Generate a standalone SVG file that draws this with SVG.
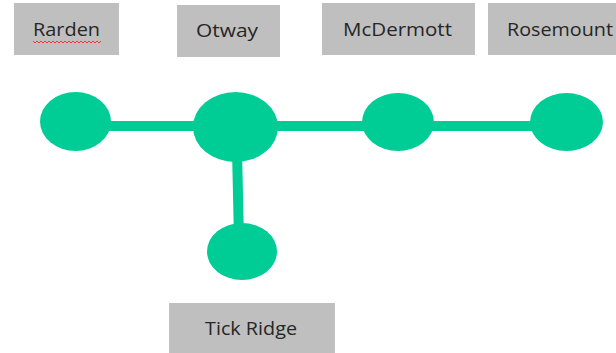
<svg xmlns="http://www.w3.org/2000/svg" width="616" height="353" viewBox="0 0 616 353">
<style>
.lbl{fill:#bfbfbf}
.txt{font-family:"Open Sans","Noto Sans",sans-serif;font-size:18.5px;fill:#262626;text-anchor:middle}
.stop{fill:#00cc96}
.conn{stroke:#00cc96;stroke-width:10;fill:none}
</style>
<rect width="616" height="353" fill="#ffffff"/>
<g id="connectors">
<line class="conn" x1="75" y1="126" x2="567" y2="126"/>
<line class="conn" x1="237" y1="150" x2="239" y2="240"/>
</g>
<g id="node-rarden">
<ellipse class="stop" cx="75.5" cy="121.5" rx="35.5" ry="29.5"/>
<rect class="lbl" x="14" y="3" width="105" height="52"/>
<text class="txt" x="66.5" y="36" textLength="67" lengthAdjust="spacingAndGlyphs">Rarden</text>
<path d="M33,41 l2,2 l2,-2 l2,2 l2,-2 l2,2 l2,-2 l2,2 l2,-2 l2,2 l2,-2 l2,2 l2,-2 l2,2 l2,-2 l2,2 l2,-2 l2,2 l2,-2 l2,2 l2,-2 l2,2 l2,-2 l2,2 l2,-2 l2,2 l2,-2 l2,2 l2,-2 l2,2 l2,-2 l2,2 l2,-2 l2,2 l2,-2" fill="none" stroke="#ff3030" stroke-width="1"/>
</g>
<g id="node-otway">
<ellipse class="stop" cx="235.5" cy="127" rx="42.5" ry="35"/>
<rect class="lbl" x="177" y="5" width="103" height="52"/>
<text class="txt" x="227" y="37" textLength="62" lengthAdjust="spacingAndGlyphs">Otway</text>
</g>
<g id="node-mcdermott">
<ellipse class="stop" cx="398" cy="122" rx="36" ry="29"/>
<rect class="lbl" x="322" y="3" width="153" height="52"/>
<text class="txt" x="397.5" y="36" textLength="109" lengthAdjust="spacingAndGlyphs">McDermott</text>
</g>
<g id="node-rosemount">
<ellipse class="stop" cx="566.5" cy="122" rx="36.5" ry="29"/>
<rect class="lbl" x="488" y="3" width="128" height="52"/>
<text class="txt" x="560" y="36" textLength="106" lengthAdjust="spacingAndGlyphs">Rosemount</text>
</g>
<g id="node-tickridge">
<ellipse class="stop" cx="242" cy="251.5" rx="35" ry="28.5"/>
<rect class="lbl" x="169" y="303" width="166" height="50"/>
<text class="txt" x="251" y="335" textLength="92" lengthAdjust="spacingAndGlyphs">Tick Ridge</text>
</g>
</svg>
